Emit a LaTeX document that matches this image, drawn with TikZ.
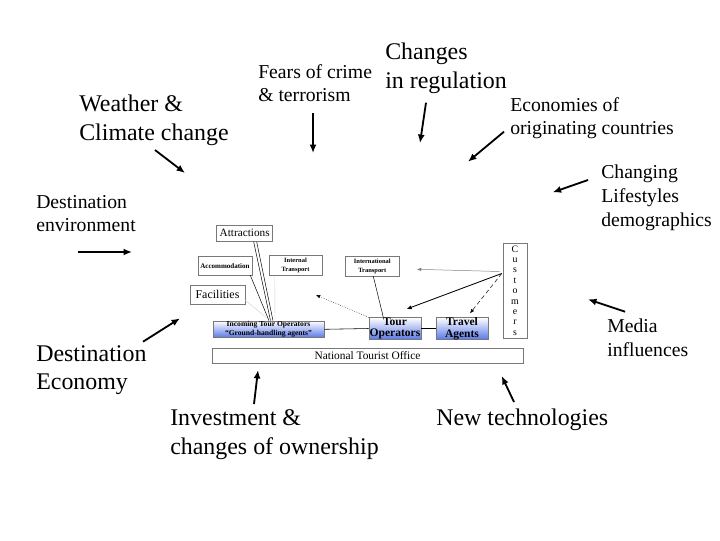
\documentclass[tikz,border=0pt]{standalone}
\usepackage{fontspec}
\setmainfont{Liberation Serif}
\usetikzlibrary{calc, arrows.meta}
\definecolor{opblue}{RGB}{88,120,232}
\definecolor{boxline}{RGB}{120,120,120}

\begin{document}
\begin{tikzpicture}[x=0.025cm, y=-0.025cm,
    bigtext/.style={anchor=north west, inner sep=0pt, align=left, font=\fontsize{17}{20.5}\selectfont},
    midtext/.style={anchor=north west, inner sep=0pt, align=left, font=\fontsize{14}{16.8}\selectfont},
    plainbox/.style={draw=boxline, fill=white, inner sep=0pt, align=center},
    opbox/.style={plainbox, top color=white, bottom color=opblue, font=\bfseries},
    influence/.style={line width=1.3pt, -{Latex[length=6pt, width=5pt]}},
    thinarrow/.style={line width=0.35pt, -{Latex[length=3pt, width=2.5pt]}}]
    % --- 1. 畫布大小 ---
    \useasboundingbox (0,0) rectangle (720,540);
    \def\u{0.025cm}

    % --- 2. 外圍因素文字 ---
    \node[bigtext] (weather) at (79,95) {Weather \&\\Climate change};
    \node[midtext] (fears) at (258,64) {Fears of crime\\\& terrorism};
    \node[bigtext] (regul) at (385,43) {Changes\\in regulation};
    \node[midtext] (econ) at (510,97) {Economies of\\originating countries};
    \node[midtext] (life) at (601,165) {Changing\\Lifestyles\\demographics};
    \node[midtext] (env) at (36,195) {Destination\\environment};
    \node[bigtext] (deco) at (36,345) {Destination\\Economy};
    \node[midtext] (media) at (607,319) {Media\\influences};
    \node[bigtext] (invest) at (170,409) {Investment \&\\changes of ownership};
    \node[bigtext] (tech) at (436,409) {New technologies};

    % --- 3. 中央方框 ---
    \node[plainbox, minimum width=56*\u, minimum height=16.7*\u, font=\fontsize{8}{9}\selectfont] (attr) at (244.7,233.3) {Attractions};
    \node[plainbox, minimum width=54*\u, minimum height=18.3*\u, font=\bfseries\fontsize{5}{6}\selectfont] (accom) at (225,265.8) {Accommodation};
    \node[plainbox, minimum width=53*\u, minimum height=19.3*\u, font=\bfseries\fontsize{4.6}{6}\selectfont] (intern) at (295.5,265.4) {Internal\\Transport};
    \node[plainbox, minimum width=53.3*\u, minimum height=19.3*\u, font=\bfseries\fontsize{4.6}{6}\selectfont] (intl) at (372.3,266.3) {International\\Transport};
    \node[plainbox, minimum width=55*\u, minimum height=19*\u, font=\fontsize{8.5}{10}\selectfont] (facil) at (217.5,294.5) {Facilities};
    \node[opbox, minimum width=111*\u, minimum height=16.7*\u, font=\bfseries\fontsize{5.4}{6.2}\selectfont] (incom) at (268.5,329.3) {Incoming Tour Operators\\“Ground-handling agents”};
    \node[opbox, minimum width=52*\u, minimum height=19*\u, font=\bfseries\fontsize{8.2}{8.4}\selectfont] (tourop) at (395,328.5) {Tour\\Operators};
    \node[opbox, minimum width=52*\u, minimum height=19*\u, font=\bfseries\fontsize{8.2}{8.4}\selectfont] (travel) at (462,328.5) {Travel\\Agents};
    \node[plainbox, minimum width=24*\u, minimum height=95*\u, font=\fontsize{7}{7.4}\selectfont] (cust) at (515,290.5) {C\\u\\s\\t\\o\\m\\e\\r\\s};
    \node[plainbox, minimum width=311*\u, minimum height=15*\u, font=\fontsize{8.1}{9}\selectfont] (nto) at (367.5,355.5) {National Tourist Office};

    % --- 4. 方框之間的連線 ---
    \draw[line width=0.4pt] (incom.east) -- (tourop.west);
    \draw[line width=0.4pt] (tourop.east) -- (travel.west);
    \draw[line width=0.35pt] ($(attr.south)+(9,0)$) -- ($(incom.north)+(2,0)$);
    \draw[line width=0.35pt] ($(attr.south)+(12,0)$) -- ($(incom.north)+(4.5,0)$);
    \draw[line width=0.35pt] ($(accom.south east)+(-2,0)$) -- ($(incom.north)+(0.5,0)$);
    \draw[gray!35, line width=0.3pt] ($(facil.south east)+(0,-4)$) -- ($(incom.north)+(-2,-3)$);
    \draw[gray!35, line width=0.3pt] ($(intern.south west)+(6,0)$) -- ($(incom.north)+(6.5,0)$);
    \draw[line width=0.35pt] ($(intl.south)+(1,0)$) -- ($(tourop.north)+(-11.7,0)$);

    % --- 5. 細箭頭 ---
    \coordinate (opfree) at (316,295);
    \coordinate (custfree) at (417,269.3);
    \draw[thinarrow, densely dotted] (tourop.north west) -- (opfree);
    \draw[thinarrow, gray] ($(cust.west)+(-3,-19)$) -- (custfree);
    \draw[line width=0.6pt, -{Latex[length=3.5pt, width=3pt]}] ($(cust.west)+(-1,-17)$) -- (406.7,309);
    \draw[thinarrow, densely dashed] ($(cust.west)+(-1,-17)$) -- (470,313.3);

    % --- 6. 外圍粗箭頭 ---
    \coordinate (w1) at (155,150);   \coordinate (w2) at (185,173);
    \coordinate (f1) at (313,113);   \coordinate (f2) at (313,153);
    \coordinate (r1) at (426,102.7); \coordinate (r2) at (420,143);
    \coordinate (e1) at (504,131.7); \coordinate (e2) at (468,161.7);
    \coordinate (l1) at (588,180);   \coordinate (l2) at (552.7,192.3);
    \coordinate (v1) at (78,252);    \coordinate (v2) at (132,252);
    \coordinate (d1) at (143,341.7); \coordinate (d2) at (180,318.3);
    \coordinate (m1) at (625,311.7); \coordinate (m2) at (588,299.3);
    \coordinate (i1) at (254,404);   \coordinate (i2) at (258,370);
    \coordinate (t1) at (514,402);   \coordinate (t2) at (501.7,376);
    \foreach \s/\t in {w1/w2, f1/f2, r1/r2, e1/e2, l1/l2, v1/v2, d1/d2, m1/m2, i1/i2, t1/t2}
        \draw[influence] (\s) -- (\t);

\end{tikzpicture}
\end{document}
